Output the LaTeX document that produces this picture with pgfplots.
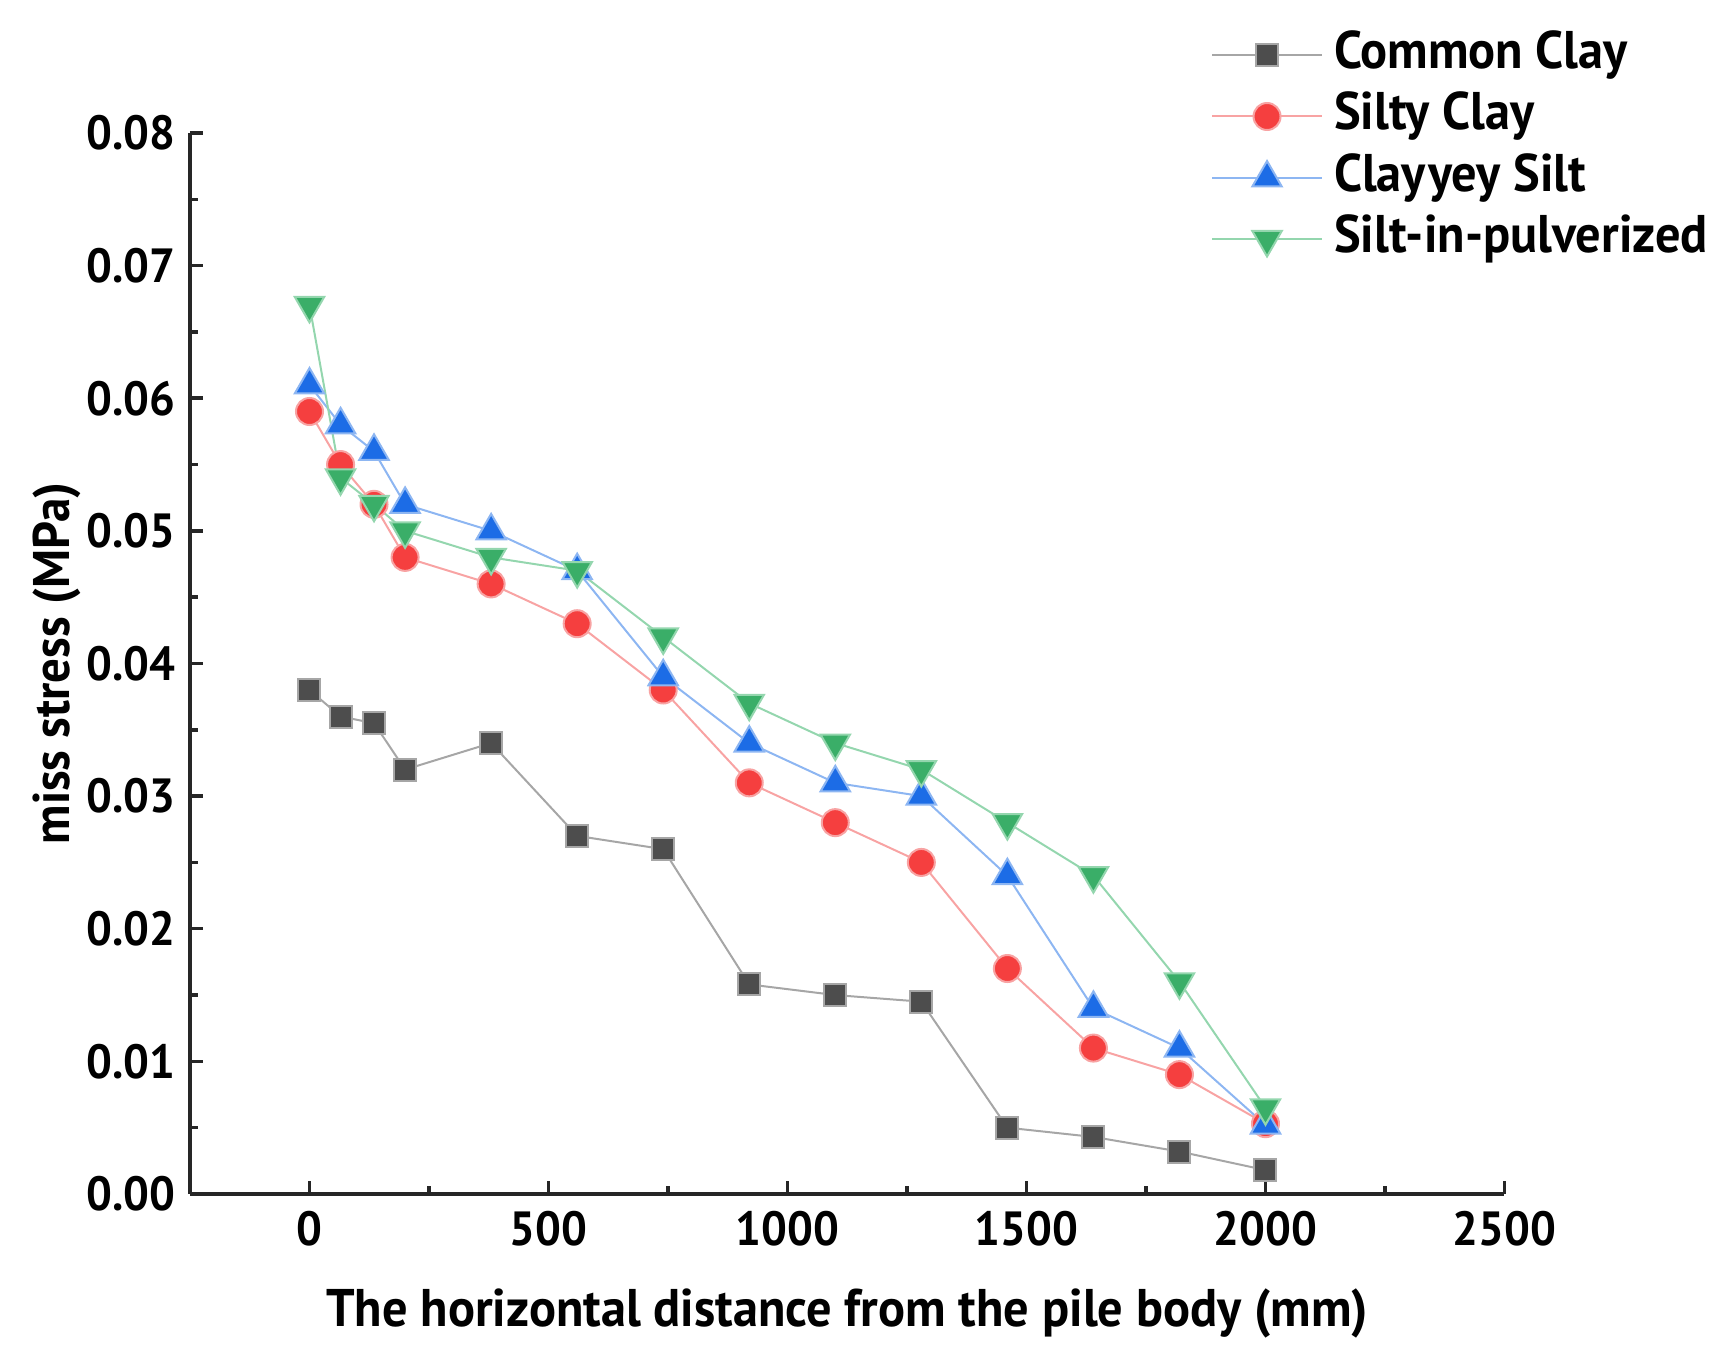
\documentclass[border=0pt]{standalone}
\usepackage{pgfplots}
\pgfplotsset{compat=1.18}
\usepackage{fontspec}
\setmainfont{PT Sans}[FakeStretch=0.95]
\definecolor{cgray}{HTML}{4D4D4D}
\definecolor{cgrayl}{HTML}{A6A6A6}
\definecolor{cred}{HTML}{F53F3F}
\definecolor{credl}{HTML}{F8A3A3}
\definecolor{cblue}{HTML}{1C6CE6}
\definecolor{cbluel}{HTML}{8DB6F2}
\definecolor{cgreen}{HTML}{3AAE68}
\definecolor{cgreenl}{HTML}{94D6AE}
\begin{document}
\begin{tikzpicture}
\path[use as bounding box] (-38pt,-33.4pt) rectangle (307.8pt,238.8pt);
\begin{axis}[
  at={(0,0)}, anchor=south west,
  scale only axis,
  width=262.9pt, height=212.2pt,
  xmin=-250, xmax=2500, ymin=0, ymax=0.08,
  axis lines*=left,
  axis line style={line width=0.8pt, color=black!85},
  xtick={0,500,1000,1500,2000,2500},
  ytick={0,0.01,0.02,0.03,0.04,0.05,0.06,0.07,0.08},
  minor x tick num=1, minor y tick num=1,
  tick align=inside,
  major tick length=2.6pt, minor tick length=1.6pt,
  tick style={line width=0.7pt, color=black!85},
  scaled y ticks=false,
  /pgf/number format/assume math mode=true,
  /pgf/number format/1000 sep={},
  yticklabel style={/pgf/number format/fixed, /pgf/number format/fixed zerofill, /pgf/number format/precision=2, xshift=0.6pt},
  ticklabel style={font=\fontsize{9.6pt}{11pt}\selectfont\bfseries},
  label style={font=\fontsize{10.6pt}{12pt}\selectfont\bfseries},
  xlabel={The horizontal distance from the pile body (mm)},
  ylabel={miss stress (MPa)},
  xlabel style={at={(axis description cs:0.5,-0.125)}, anchor=base},
  ylabel style={at={(axis description cs:-0.092,0.5)}, anchor=base, font=\fontsize{10.3pt}{12pt}\selectfont\bfseries},
  clip=false,
  legend cell align=left,
  legend style={at={(axis description cs:0.776,1.0985)}, anchor=north west, draw=none, fill=none,
    font=\fontsize{10.6pt}{12pt}\selectfont\bfseries, inner sep=0pt, row sep=2.1pt, column sep=2.2pt,
    nodes={inner sep=0pt, text height=7.8pt, text depth=2.4pt}},
  legend image code/.code={\draw[mark repeat=2,mark phase=2] plot coordinates {(0pt,0pt) (11pt,0pt) (22pt,0pt)};},
]
\addplot[color=cgrayl, line width=0.4pt, mark=square*, mark size=2.2pt, mark options={draw=none, fill=cgray}] coordinates {
(0,0.038) (65,0.036) (135,0.0355) (200,0.032) (380,0.034) (560,0.027) (740,0.026)
(920,0.0158) (1100,0.015) (1280,0.0145) (1460,0.005) (1640,0.0043) (1820,0.0032) (2000,0.0018)};
\addlegendentry{Common Clay}
\addplot[color=credl, line width=0.4pt, mark=*, mark size=2.7pt, mark options={draw=none, fill=cred}] coordinates {
(0,0.059) (65,0.055) (135,0.052) (200,0.048) (380,0.046) (560,0.043) (740,0.038)
(920,0.031) (1100,0.028) (1280,0.025) (1460,0.017) (1640,0.011) (1820,0.009) (2000,0.0053)};
\addlegendentry{Silty Clay}
\addplot[color=cbluel, line width=0.4pt, mark=triangle*, mark size=3.4pt, mark options={draw=none, fill=cblue}] coordinates {
(0,0.061) (65,0.058) (135,0.056) (200,0.052) (380,0.050) (560,0.047) (740,0.039)
(920,0.034) (1100,0.031) (1280,0.030) (1460,0.024) (1640,0.014) (1820,0.011) (2000,0.0052)};
\addlegendentry{Clayyey Silt}
\addplot[color=cgreenl, line width=0.4pt, mark=triangle*, mark size=3.4pt, mark options={draw=none, fill=cgreen, rotate=180}] coordinates {
(0,0.067) (65,0.054) (135,0.052) (200,0.050) (380,0.048) (560,0.047) (740,0.042)
(920,0.037) (1100,0.034) (1280,0.032) (1460,0.028) (1640,0.024) (1820,0.016) (2000,0.0065)};
\addlegendentry{Silt-in-pulverized}
\end{axis}
\end{tikzpicture}
\end{document}
